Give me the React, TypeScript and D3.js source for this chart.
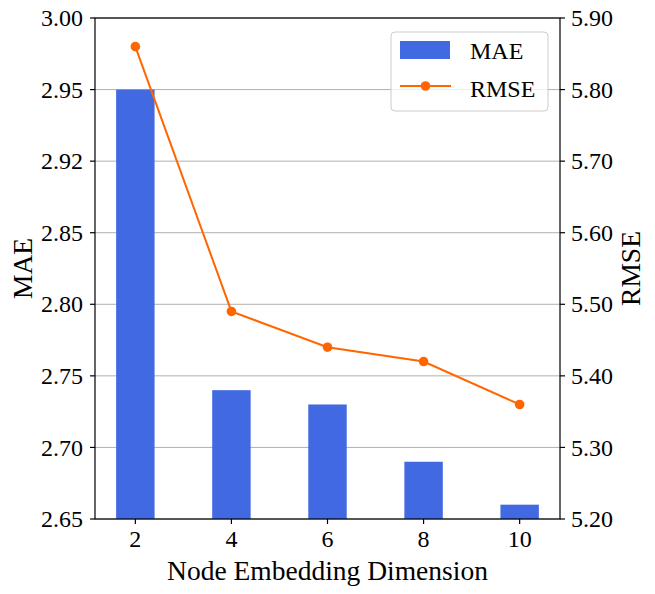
import React from 'react';
import * as d3 from 'd3';

// chart data
const dims = [2, 4, 6, 8, 10];
const maeValues = [2.95, 2.74, 2.73, 2.69, 2.66];
const rmseValues = [5.86, 5.49, 5.44, 5.42, 5.36];

const maeTicks = [2.65, 2.7, 2.75, 2.8, 2.85, 2.9, 2.95, 3.0];
const maeTickLabels = ['2.65', '2.70', '2.75', '2.80', '2.85', '2.92', '2.95', '3.00'];
const rmseTicks = [5.2, 5.3, 5.4, 5.5, 5.6, 5.7, 5.8, 5.9];
const rmseTickLabels = ['5.20', '5.30', '5.40', '5.50', '5.60', '5.70', '5.80', '5.90'];

const W = 655;
const H = 594;
const left = 95;
const right = 560;
const top = 18;
const bottom = 519;

const FONT = "'Liberation Serif', 'Times New Roman', Times, serif";
const BAR = '#4169e1';
const LINE = '#ff6600';

const App = () => {
    const x = d3.scaleLinear().domain([1.16, 10.84]).range([left, right]);
    const yL = d3.scaleLinear().domain([2.65, 3.0]).range([bottom, top]);
    const yR = d3.scaleLinear().domain([5.2, 5.9]).range([bottom, top]);
    const barW = x(0.8) - x(0);

    const line = d3.line<number>()
        .x((_, i) => x(dims[i]))
        .y(d => yR(d));

    const txt = { fontFamily: FONT };

    return (
        <svg width={W} height={H} style={{ position: 'absolute', left: 0, top: 0, fontFamily: FONT }}>
            <rect width={W} height={H} fill="white" />

            {/* grid */}
            {rmseTicks.map(t => (
                <line key={'g' + t} x1={left} x2={right} y1={yR(t)} y2={yR(t)}
                    stroke="#b0b0b0" strokeWidth={1} />
            ))}

            {/* bars */}
            {maeValues.map((v, i) => (
                <rect key={'b' + i} x={x(dims[i]) - barW / 2} y={yL(v)}
                    width={barW} height={yL(2.65) - yL(v)} fill={BAR} />
            ))}

            {/* rmse line */}
            <path d={line(rmseValues) || ''} fill="none" stroke={LINE} strokeWidth={2} />
            {rmseValues.map((v, i) => (
                <circle key={'m' + i} cx={x(dims[i])} cy={yR(v)} r={4.8} fill={LINE} />
            ))}

            {/* frame */}
            <rect x={left} y={top} width={right - left} height={bottom - top}
                fill="none" stroke="black" strokeWidth={1.2} />

            {/* left axis */}
            {maeTicks.map((t, i) => (
                <g key={'l' + t}>
                    <line x1={left - 5} x2={left} y1={yL(t)} y2={yL(t)} stroke="black" strokeWidth={1.2} />
                    <text style={txt} x={left - 12} y={yL(t)} dy="0.34em" textAnchor="end" fontSize={24}>
                        {maeTickLabels[i]}
                    </text>
                </g>
            ))}

            {/* right axis */}
            {rmseTicks.map((t, i) => (
                <g key={'r' + t}>
                    <line x1={right} x2={right + 5} y1={yR(t)} y2={yR(t)} stroke="black" strokeWidth={1.2} />
                    <text style={txt} x={right + 11} y={yR(t)} dy="0.34em" textAnchor="start" fontSize={24}>
                        {rmseTickLabels[i]}
                    </text>
                </g>
            ))}

            {/* bottom axis */}
            {dims.map(d => (
                <g key={'x' + d}>
                    <line x1={x(d)} x2={x(d)} y1={bottom} y2={bottom + 5} stroke="black" strokeWidth={1.2} />
                    <text style={txt} x={x(d)} y={547} textAnchor="middle" fontSize={24}>{d}</text>
                </g>
            ))}

            {/* axis titles */}
            <text style={txt} x={(left + right) / 2} y={579.5} textAnchor="middle" fontSize={27.5}>
                Node Embedding Dimension
            </text>
            <text style={txt} transform={`translate(31.5, ${(top + bottom) / 2}) rotate(-90)`}
                textAnchor="middle" fontSize={27.5}>MAE</text>
            <text style={txt} transform={`translate(640, ${(top + bottom) / 2}) rotate(-90)`}
                textAnchor="middle" fontSize={27.5}>RMSE</text>

            {/* legend */}
            <g>
                <rect x={391} y={32} width={157} height={79} rx={4}
                    fill="white" fillOpacity={0.8} stroke="#cccccc" strokeWidth={1} />
                <rect x={400} y={41} width={50} height={18} fill={BAR} />
                <text style={txt} x={470} y={59} fontSize={24}>MAE</text>
                <line x1={400} x2={451} y1={86} y2={86} stroke={LINE} strokeWidth={2} />
                <circle cx={425.5} cy={86} r={4.8} fill={LINE} />
                <text style={txt} x={470} y={96.7} fontSize={24}>RMSE</text>
            </g>
        </svg>
    );
};

export default App;
